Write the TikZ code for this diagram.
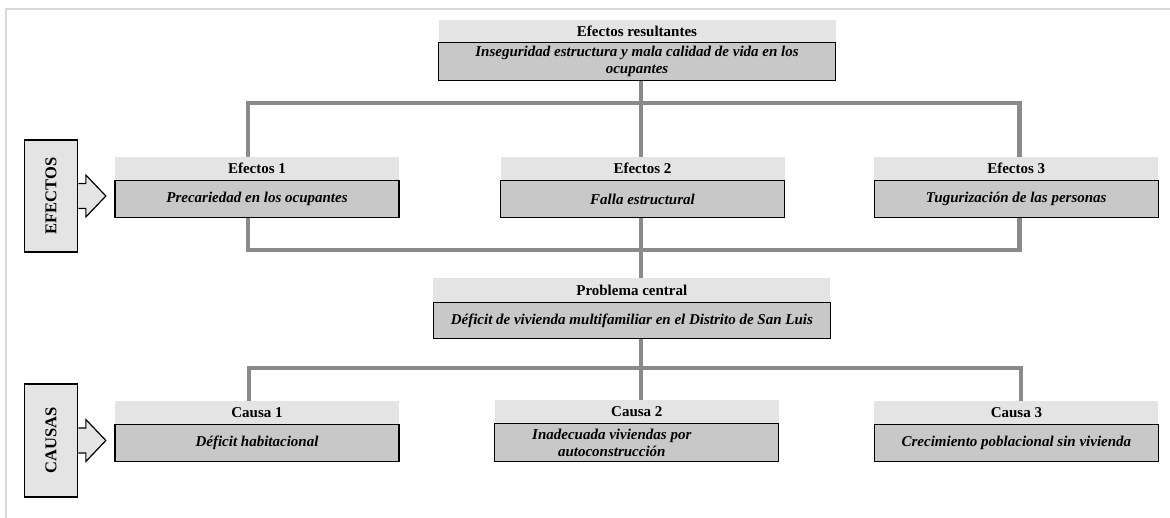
\documentclass[tikz,border=0pt]{standalone}
\usepackage{fontspec}
\setmainfont{Liberation Serif}
\usepackage{graphicx}
\usetikzlibrary{positioning,calc}
\definecolor{grisclaro}{RGB}{228,228,228}
\definecolor{grismedio}{RGB}{200,200,200}
\definecolor{grislinea}{RGB}{138,138,138}
\definecolor{grismarco}{RGB}{216,216,216}

\begin{document}
\begin{tikzpicture}[x=1pt,y=-1pt,
    titulo/.style={fill=grisclaro, inner sep=0pt, minimum width=284pt, minimum height=23pt,
      font=\fontsize{15}{16}\selectfont\bfseries},
    cuerpo/.style={fill=grismedio, draw=black, line width=1.2pt, inner sep=2pt,
      minimum width=284pt, minimum height=36.5pt, align=center,
      font=\fontsize{15}{17}\selectfont\bfseries\itshape},
    conector/.style={draw=grislinea, line width=4.5pt},
    etiqueta/.style={fill=grisclaro, draw=black, line width=1.2pt,
      minimum width=53.5pt, minimum height=112pt, inner sep=0pt,
      font=\fontsize{16.5}{18}\selectfont\bfseries},
    marco/.style={draw=grismarco, line width=2pt}]
    \useasboundingbox (0,0) rectangle (1170,518);
    \draw[marco] (6,518) -- (6,9.5) -- (1170,9.5);

    % efectos resultantes
    \node[titulo, minimum width=397pt, minimum height=22pt] (rest) at (637,31) {Efectos resultantes};
    \node[cuerpo, minimum width=397pt, minimum height=38pt, below=0pt of rest] (res)
      {Inseguridad estructura y mala calidad de vida en los\\ocupantes};

    % efectos
    \node[titulo] (e1t) at (257,168.5) {Efectos 1};
    \node[cuerpo, below=0pt of e1t] (e1) {Precariedad en los ocupantes};
    \node[titulo] (e2t) at (642.5,168.5) {Efectos 2};
    \node[cuerpo, below=0pt of e2t] (e2) {Falla estructural};
    \node[titulo] (e3t) at (1016.2,168.5) {Efectos 3};
    \node[cuerpo, below=0pt of e3t] (e3) {Tugurización de las personas};

    % problema central
    \node[titulo, minimum width=397pt, minimum height=24pt] (pct) at (631.8,290) {Problema central};
    \node[cuerpo, minimum width=397pt, minimum height=36pt, below=0pt of pct] (pc)
      {Déficit de vivienda multifamiliar en el Distrito de San Luis};

    % causas
    \node[titulo] (c1t) at (257,412.5) {Causa 1};
    \node[cuerpo, minimum height=37pt, below=0pt of c1t] (c1) {Déficit habitacional};
    \node[titulo] (c2t) at (636.8,411.5) {Causa 2};
    \node[cuerpo, minimum height=38pt, below=0pt of c2t] (c2)
      {Inadecuada viviendas por\hspace*{50pt}\\autoconstrucción\hspace*{50pt}};
    \node[titulo] (c3t) at (1016.4,412.5) {Causa 3};
    \node[cuerpo, minimum height=37pt, below=0pt of c3t] (c3) {Crecimiento poblacional sin vivienda};

    % etiquetas laterales
    \node[etiqueta] (efectos) at (51,196) {\rotatebox{90}{EFECTOS}};
    \node[etiqueta, minimum height=113pt] (causas) at (51,440.5) {\rotatebox{90}{CAUSAS}};
    \foreach \lado in {efectos,causas}
      \filldraw[fill=grisclaro, draw=black, line width=1.2pt, line join=miter]
        ([yshift=12.5pt]\lado.east) -- ++(7.5,0) -- ++(0,-8.5) -- ++(20,21)
        -- ++(-20,21) -- ++(0,-8.5) -- ++(-7.5,0);

    % conectores
    \coordinate (eje) at (641,0);
    \coordinate (b1i) at (248,103);
    \coordinate (b1d) at (1019.5,103);
    \coordinate (b2i) at (248,250);
    \coordinate (b2d) at (1019.5,250);
    \coordinate (b3i) at (248.8,368);
    \coordinate (b3d) at (1021,368);
    \draw[conector] (res.south -| eje) -- (e2t.north -| eje);
    \draw[conector] (b1i |- e1t.north) -- (b1i) -- (b1d) -- (b1d |- e3t.north);
    \draw[conector] (e1.south -| b2i) -- (b2i) -- (b2d) -- (e3.south -| b2d);
    \draw[conector] (e2.south -| eje) -- (pct.north -| eje);
    \draw[conector] (pc.south -| eje) -- (c2t.north -| eje);
    \draw[conector] (b3i |- c1t.north) -- (b3i) -- (b3d) -- (b3d |- c3t.north);
\end{tikzpicture}
\end{document}
